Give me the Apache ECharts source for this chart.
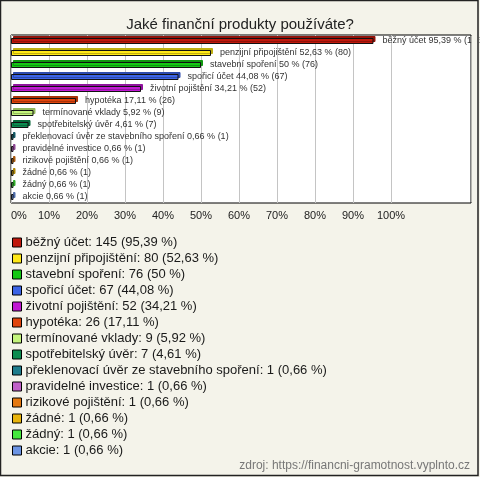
<!DOCTYPE html>
<html><head><meta charset="utf-8">
<script src="https://cdn.jsdelivr.net/npm/echarts@6/dist/echarts.min.js"></script>
<style>html,body{margin:0;padding:0;background:#f4f3ea;}#c{width:480px;height:477px;}</style>
</head><body><div id="c"></div>
<script>
var categories = ['běžný účet','penzijní připojištění','stavební spoření','spořicí účet','životní pojištění','hypotéka','termínované vklady','spotřebitelský úvěr','překlenovací úvěr ze stavebního spoření','pravidelné investice','rizikové pojištění','žádné','žádný','akcie'];
var counts = [145,80,76,67,52,26,9,7,1,1,1,1,1,1];
var percents = [95.39,52.63,50,44.08,34.21,17.11,5.92,4.61,0.66,0.66,0.66,0.66,0.66,0.66];
var colors = ['#c0180c','#ffe817','#14c814','#3c64e6','#c018d2','#e0440c','#c4f47c','#0c8c50','#1e7c8c','#c060c8','#e47810','#e8b40c','#44e83c','#6c94e4'];
var xTicks = [0,10,20,30,40,50,60,70,80,90,100];

var FONT = 'Arial, "Liberation Sans", sans-serif';
function pct(v){ return String(v).replace('.', ','); }
function darken(hex, f){
  var n = parseInt(hex.slice(1), 16);
  var r = Math.round(((n >> 16) & 255) * f), g = Math.round(((n >> 8) & 255) * f), b = Math.round((n & 255) * f);
  return 'rgb(' + r + ',' + g + ',' + b + ')';
}

var series = categories.map(function(name, i){
  var d = categories.map(function(_, j){ return j === i ? percents[i] : '-'; });
  return {
    name: name, type: 'bar', stack: 's', xAxisIndex: 0, yAxisIndex: 0,
    barWidth: 6, data: d, color: colors[i],
    itemStyle: { color: colors[i], borderColor: '#111', borderWidth: 1,
      shadowColor: darken(colors[i], 0.75), shadowBlur: 0, shadowOffsetX: 2, shadowOffsetY: -2 },
    label: { show: true, position: 'right', distance: 9, color: '#333',
      fontFamily: FONT, fontSize: 9,
      formatter: function(){ return name + ' ' + pct(percents[i]) + ' % (' + counts[i] + ')'; } },
    emphasis: { disabled: true }, animation: false
  };
});

var chart = echarts.init(document.getElementById('c'), null, {renderer: 'canvas'});
chart.setOption({
  backgroundColor: '#f4f3ea',
  animation: false,
  title: { text: 'Jaké finanční produkty používáte?', left: 'center', top: 12,
    textStyle: { fontFamily: FONT, fontSize: 15, fontWeight: 'normal', color: '#222' } },
  grid: [
    { left: 11, right: 9, top: 35, bottom: 274, show: true, backgroundColor: '#fff', borderColor: '#000', borderWidth: 1, z: -1 },
    { left: 11, width: 380, top: 35, bottom: 274, show: false }
  ],
  xAxis: [
    { gridIndex: 0, type: 'value', min: 0, max: 121.05, show: false, splitLine: { show: false } },
    { gridIndex: 1, type: 'value', min: xTicks[0], max: xTicks[xTicks.length-1], interval: 10,
      axisLine: { show: false }, axisTick: { show: false },
      splitLine: { show: true, lineStyle: { color: '#c4c4c4', width: 1 } },
      axisLabel: { margin: 7, color: '#222', fontFamily: FONT, fontSize: 11, alignMinLabel: 'left',
        formatter: function(v){ return v + '%'; } } }
  ],
  yAxis: [
    { gridIndex: 0, type: 'category', data: categories, inverse: true, show: false },
    { gridIndex: 1, type: 'category', data: categories, inverse: true, show: false }
  ],
  legend: {
    orient: 'vertical', left: 7, top: 231, itemWidth: 9, itemHeight: 9, itemGap: 3,
    icon: 'rect', selectedMode: false,
    itemStyle: { borderColor: '#000', borderWidth: 1, shadowColor: 'rgba(0,0,0,0)', shadowBlur: 0, shadowOffsetX: 0, shadowOffsetY: 0 },
    textStyle: { fontFamily: FONT, fontSize: 13, color: '#1a1a1a', padding: [0,0,0,-1] },
    formatter: function(name){ var i = categories.indexOf(name); return name + ': ' + counts[i] + ' (' + pct(percents[i]) + ' %)'; },
    data: categories
  },
  graphic: [
    { type: 'rect', z: 100, shape: { x: 471.5, y: 36, width: 8, height: 166 }, style: { fill: '#f4f3ea' } },
    { type: 'rect', z: 101, shape: { x: 0.5, y: 0.5, width: 477.5, height: 475 }, style: { fill: null, stroke: '#222', lineWidth: 1.5 } },
    { type: 'text', z: 101, right: 10, top: 460, style: { text: 'zdroj: https://financni-gramotnost.vyplnto.cz', fontFamily: FONT, fontSize: 12, fill: '#777' } }
  ],
  series: series
});
</script></body></html>
